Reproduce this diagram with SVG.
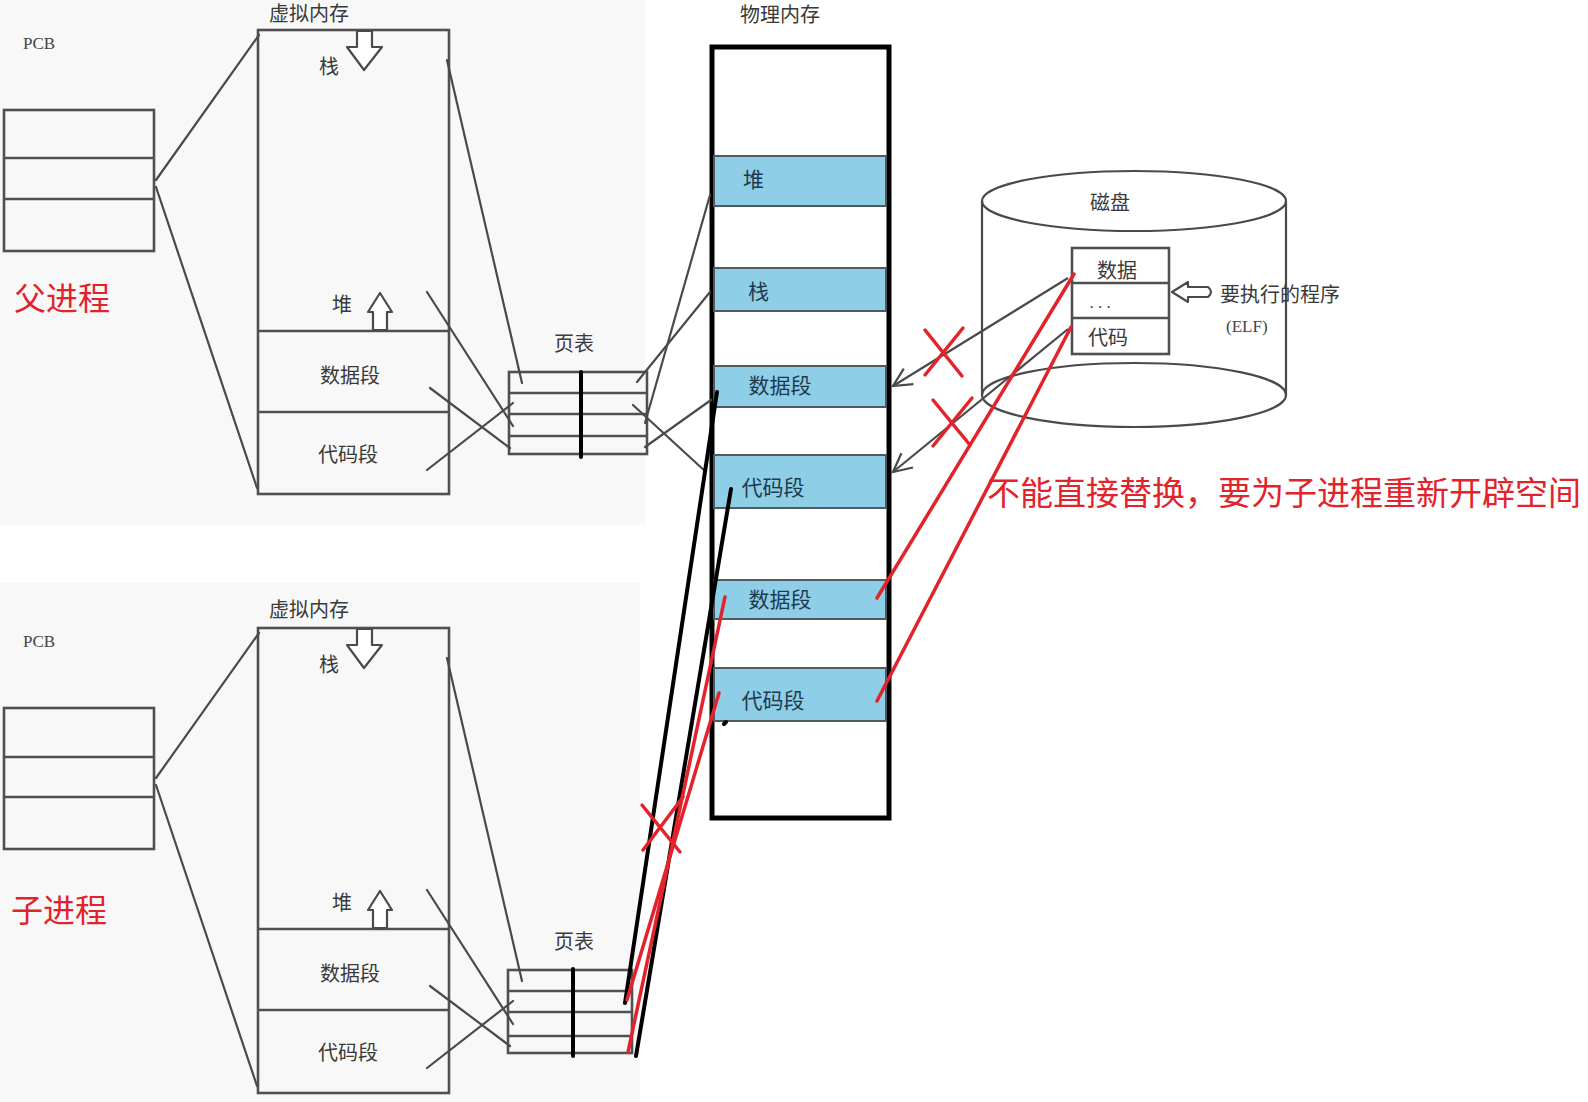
<svg xmlns="http://www.w3.org/2000/svg" width="1588" height="1102" viewBox="0 0 1588 1102">
<defs>
<style>
.bg{fill:#f8f8f8}
.g{stroke:#4a4a4a;stroke-width:2.2;fill:none;stroke-linecap:round}
.box{stroke:#505050;stroke-width:2.6;fill:none}
.row{stroke:#505050;stroke-width:2.4}
.lbl{font-family:"Noto Sans CJK SC","Noto Sans",sans-serif;font-size:20px;fill:#3a3a3a}
.pcb{font-family:"Liberation Serif",serif;font-size:17px;fill:#444}
.seg{fill:#8ecee6;stroke:#4f5a60;stroke-width:2}
.segl{font-family:"Noto Sans CJK SC",sans-serif;font-size:21px;fill:#1f3a4e}
.red{stroke:#e3232b;stroke-width:3.5;stroke-linecap:round;fill:none}
.blk{stroke:#000;stroke-width:4;stroke-linecap:round}
.rt{font-family:"Noto Sans CJK SC",sans-serif;fill:#e3232b}
.harrow{fill:#fff;stroke:#4a4a4a;stroke-width:2.2;stroke-linejoin:round}
.arr{stroke:#4a4a4a;stroke-width:2.2;fill:none;marker-end:url(#open)}
</style>
<marker id="open" viewBox="0 0 12 12" refX="11" refY="6" markerWidth="22" markerHeight="22" markerUnits="userSpaceOnUse" orient="auto">
<path d="M1,1 L11,6 L1,11" fill="none" stroke="#4a4a4a" stroke-width="1.2"/>
</marker>
</defs>
<rect width="1588" height="1102" fill="#fff"/>
<rect class="bg" x="0" y="0" width="645" height="525"/>
<rect class="bg" x="0" y="583" width="640" height="519"/>

<g id="parent-pcb">
<text class="pcb" x="23" y="49">PCB</text>
<rect class="box" x="4" y="110" width="150" height="141"/>
<line class="row" x1="4" y1="158" x2="154" y2="158"/>
<line class="row" x1="4" y1="199" x2="154" y2="199"/>
</g>
<g id="parent-title"><text class="rt" x="14" y="310" font-size="32">父进程</text></g>

<g id="parent-vm">
<text class="lbl" x="309" y="21" text-anchor="middle">虚拟内存</text>
<rect class="box" x="258" y="30" width="191" height="464"/>
<line class="row" x1="258" y1="331" x2="449" y2="331"/>
<line class="row" x1="258" y1="412" x2="449" y2="412"/>
<text class="lbl" x="329" y="74" text-anchor="middle">栈</text>
<path class="harrow" d="M357,31 L357,47 L347,47 L364,70 L382,47 L372,47 L372,31 Z"/>
<text class="lbl" x="342" y="312" text-anchor="middle">堆</text>
<path class="harrow" d="M373,330 L373,312 L368,312 L380,293 L392,312 L387,312 L387,330 Z"/>
<text class="lbl" x="350" y="383" text-anchor="middle">数据段</text>
<text class="lbl" x="348" y="462" text-anchor="middle">代码段</text>
</g>

<g id="parent-pagetable">
<text class="lbl" x="574" y="351" text-anchor="middle">页表</text>
<rect class="box" x="509" y="372" width="138" height="82"/>
<line class="row" x1="509" y1="393" x2="647" y2="393"/>
<line class="row" x1="509" y1="414" x2="647" y2="414"/>
<line class="row" x1="509" y1="436" x2="647" y2="436"/>
<line class="blk" x1="581" y1="372" x2="581" y2="457"/>
</g>

<g id="child-pcb">
<text class="pcb" x="23" y="647">PCB</text>
<rect class="box" x="4" y="708" width="150" height="141"/>
<line class="row" x1="4" y1="757" x2="154" y2="757"/>
<line class="row" x1="4" y1="797" x2="154" y2="797"/>
</g>
<g id="child-title"><text class="rt" x="11" y="922" font-size="32">子进程</text></g>

<g id="child-vm">
<text class="lbl" x="309" y="617" text-anchor="middle">虚拟内存</text>
<rect class="box" x="258" y="628" width="191" height="465"/>
<line class="row" x1="258" y1="929" x2="449" y2="929"/>
<line class="row" x1="258" y1="1010" x2="449" y2="1010"/>
<text class="lbl" x="329" y="672" text-anchor="middle">栈</text>
<path class="harrow" d="M357,629 L357,645 L347,645 L364,668 L382,645 L372,645 L372,629 Z"/>
<text class="lbl" x="342" y="910" text-anchor="middle">堆</text>
<path class="harrow" d="M373,928 L373,910 L368,910 L380,891 L392,910 L387,910 L387,928 Z"/>
<text class="lbl" x="350" y="981" text-anchor="middle">数据段</text>
<text class="lbl" x="348" y="1060" text-anchor="middle">代码段</text>
</g>

<g id="child-pagetable">
<text class="lbl" x="574" y="949" text-anchor="middle">页表</text>
<rect class="box" x="508" y="970" width="124" height="83"/>
<line class="row" x1="508" y1="991" x2="632" y2="991"/>
<line class="row" x1="508" y1="1012" x2="632" y2="1012"/>
<line class="row" x1="508" y1="1036" x2="632" y2="1036"/>
<line class="blk" x1="573" y1="969" x2="573" y2="1056"/>
</g>

<g id="phys-mem">
<text class="lbl" x="780" y="22" text-anchor="middle">物理内存</text>
<rect x="712" y="47" width="177" height="771" fill="#fff" stroke="#000" stroke-width="5"/>
<rect class="seg" x="714" y="156" width="172" height="50"/>
<text class="segl" x="743" y="187">堆</text>
<rect class="seg" x="714" y="268" width="172" height="43"/>
<text class="segl" x="748" y="299">栈</text>
<rect class="seg" x="714" y="366" width="172" height="41"/>
<text class="segl" x="780" y="393" text-anchor="middle">数据段</text>
<rect class="seg" x="714" y="455" width="172" height="53"/>
<text class="segl" x="773" y="495" text-anchor="middle">代码段</text>
<rect class="seg" x="714" y="580" width="172" height="39"/>
<text class="segl" x="780" y="607" text-anchor="middle">数据段</text>
<rect class="seg" x="714" y="668" width="172" height="53"/>
<text class="segl" x="773" y="708" text-anchor="middle">代码段</text>
</g>

<g id="disk">
<line class="g" x1="982" y1="201" x2="982" y2="395"/>
<line class="g" x1="1286" y1="201" x2="1286" y2="395"/>
<ellipse cx="1134" cy="201" rx="152" ry="30" fill="none" stroke="#4a4a4a" stroke-width="2.2"/>
<ellipse cx="1134" cy="395" rx="152" ry="32" fill="none" stroke="#4a4a4a" stroke-width="2.2"/>
<text class="lbl" x="1110" y="210" text-anchor="middle">磁盘</text>
<rect class="box" x="1072" y="248" width="97" height="106"/>
<line class="row" x1="1072" y1="283" x2="1169" y2="283"/>
<line class="row" x1="1072" y1="318" x2="1169" y2="318"/>
<text class="lbl" x="1117" y="278" text-anchor="middle">数据</text>
<text class="pcb" x="1100" y="308" text-anchor="middle">. . .</text>
<text class="lbl" x="1108" y="345" text-anchor="middle">代码</text>
<path class="harrow" d="M1172,292 L1188,282 L1188,287 L1208,287 Q1214,292 1208,297 L1188,297 L1188,302 Z"/>
<text class="lbl" x="1220" y="302" font-size="19">要执行的程序</text>
<text class="pcb" x="1226" y="332" font-size="20">(ELF)</text>
</g>

<g id="note"><text class="rt" x="987" y="505" font-size="33">不能直接替换，要为子进程重新开辟空间</text></g>

<g id="connectors">
<line class="g" x1="156" y1="180" x2="259" y2="35"/>
<line class="g" x1="156" y1="187" x2="257" y2="488"/>
<line class="g" x1="447" y1="60" x2="522" y2="383"/>
<line class="g" x1="427" y1="292" x2="513" y2="426"/>
<line class="g" x1="430" y1="388" x2="510" y2="448"/>
<line class="g" x1="427" y1="470" x2="513" y2="403"/>
<line class="g" x1="637" y1="382" x2="710" y2="292"/>
<line class="g" x1="645" y1="423" x2="710" y2="195"/>
<line class="g" x1="633" y1="405" x2="706" y2="472"/>
<line class="g" x1="645" y1="447" x2="711" y2="400"/>

<line class="g" x1="156" y1="778" x2="259" y2="633"/>
<line class="g" x1="156" y1="785" x2="257" y2="1086"/>
<line class="g" x1="447" y1="658" x2="522" y2="981"/>
<line class="g" x1="427" y1="890" x2="513" y2="1024"/>
<line class="g" x1="430" y1="986" x2="510" y2="1046"/>
<line class="g" x1="427" y1="1068" x2="513" y2="1001"/>

<line class="arr" x1="1068" y1="278" x2="893" y2="386"/>
<line class="arr" x1="1068" y1="329" x2="893" y2="472"/>

<line class="blk" x1="717" y1="392" x2="625" y2="1003"/>
<line class="blk" x1="731" y1="489" x2="636" y2="1056"/>
<line class="blk" x1="724" y1="724" x2="726" y2="722"/>

<line class="red" x1="725" y1="597" x2="628" y2="1052"/>
<line class="red" x1="719" y1="693" x2="627" y2="1000"/>
<line class="red" x1="1074" y1="274" x2="877" y2="598"/>
<line class="red" x1="1071" y1="327" x2="877" y2="701"/>
<line class="red" x1="925" y1="330" x2="962" y2="376"/>
<line class="red" x1="963" y1="328" x2="925" y2="375"/>
<line class="red" x1="933" y1="400" x2="970" y2="445"/>
<line class="red" x1="972" y1="398" x2="933" y2="446"/>
<line class="red" x1="642" y1="805" x2="680" y2="852"/>
<line class="red" x1="683" y1="797" x2="643" y2="850"/>
</g>
</svg>
